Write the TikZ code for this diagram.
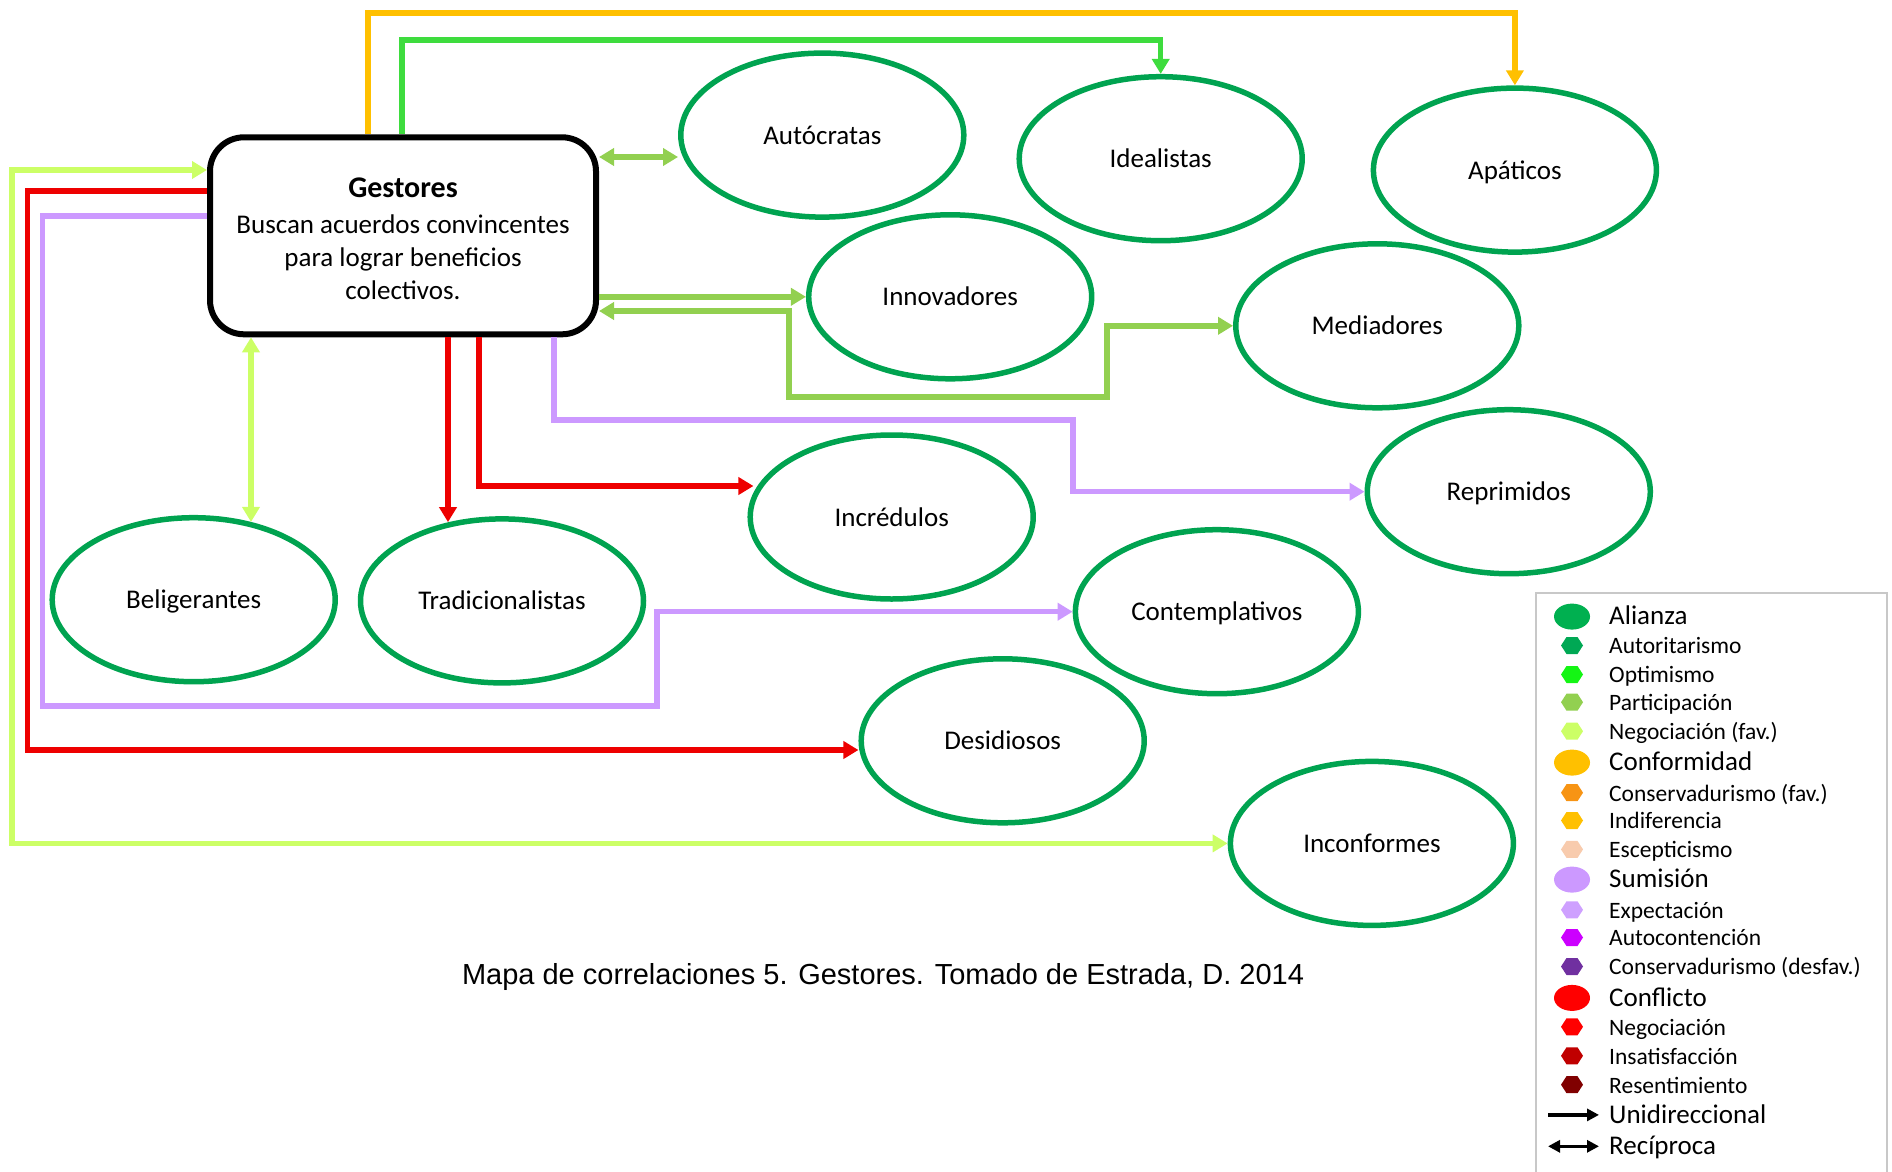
\documentclass[tikz,border=0pt]{standalone}
\usepackage{fontspec}
\setmainfont{Carlito}
\newfontfamily\capfont{Liberation Sans}
\usetikzlibrary{arrows.meta,calc,shapes.geometric}

% relation colours
\definecolor{ellgreen}{RGB}{0,163,80}
\definecolor{optimc}{RGB}{62,220,62}
\definecolor{particc}{RGB}{146,208,80}
\definecolor{negfavc}{RGB}{204,255,102}
\definecolor{conformc}{RGB}{255,192,0}
\definecolor{sumisc}{RGB}{204,153,255}
\definecolor{conflc}{RGB}{238,0,0}
% legend colours
\definecolor{alianzaL}{RGB}{0,176,80}
\definecolor{autorL}{RGB}{0,168,84}
\definecolor{optimL}{RGB}{20,245,20}
\definecolor{consfavL}{RGB}{247,148,20}
\definecolor{escepL}{RGB}{248,203,173}
\definecolor{expectL}{RGB}{206,160,255}
\definecolor{autocL}{RGB}{204,0,255}
\definecolor{consdesL}{RGB}{112,48,160}
\definecolor{conflL}{RGB}{255,0,0}
\definecolor{insatL}{RGB}{192,0,0}
\definecolor{resentL}{RGB}{128,0,0}
\definecolor{legframe}{RGB}{200,200,200}

\tikzset{
  hexa/.pic={\fill[pic actions] (-11,0) -- (-5.5,-8.5) -- (5.5,-8.5) -- (11,0) -- (5.5,8.5) -- (-5.5,8.5) -- cycle;}
}

\begin{document}
\begin{tikzpicture}[x=1pt,y=-1pt,
  actor/.style={ellipse, draw=ellgreen, line width=5.5pt, minimum width=283pt,
    minimum height=164pt, inner sep=0pt, text height=18pt, text depth=0pt,
    font=\fontsize{27}{32}\selectfont},
  hub/.style={draw=black, line width=6pt, rounded corners=34pt, minimum width=386pt,
    minimum height=197pt, align=center, inner sep=0pt, font=\fontsize{27}{33}\selectfont},
  link/.style={line width=5.5pt, -{Triangle[length=15pt,width=17pt]}},
  twoway/.style={line width=5.5pt, {Triangle[length=15pt,width=17pt]}-{Triangle[length=15pt,width=17pt]}},
  bigkey/.style={anchor=mid west, inner sep=0pt, yshift=-6pt, font=\fontsize{27}{30}\selectfont},
  smallkey/.style={anchor=mid west, inner sep=0pt, yshift=-6pt, font=\fontsize{23.5}{26}\selectfont},
]
\useasboundingbox (0,0) rectangle (1892,1172);

% central actor
\node[hub] (gest) at (403,235.8)
  {\\[-8pt]{\bfseries\fontsize{30}{33}\selectfont Gestores}\\[3pt]
   Buscan acuerdos convincentes\\para lograr beneficios\\colectivos.};

% related actors
\node[actor] (aut)  at (822.3,135.1)  {Autócratas};
\node[actor] (ide)  at (1160.7,158.7) {Idealistas};
\node[actor] (apa)  at (1514.9,170.1) {Apáticos};
\node[actor] (inn)  at (950.2,296.8)  {Innovadores};
\node[actor] (med)  at (1377.3,325.8) {Mediadores};
\node[actor] (rep)  at (1508.8,491.7) {Reprimidos};
\node[actor] (inc)  at (891.7,517)    {Incrédulos};
\node[actor] (bel)  at (193.7,599.7)  {Beligerantes};
\node[actor] (trad) at (502,600.9)    {Tradicionalistas};
\node[actor] (con)  at (1216.9,611.7) {Contemplativos};
\node[actor] (des)  at (1002.7,740.8) {Desidiosos};
\node[actor] (incf) at (1371.9,843.4) {Inconformes};

% conformidad / optimismo over the top
\draw[link, conformc] (368,0 |- gest.north) -- (368,13) -| (apa.north);
\draw[link, optimc] (402,0 |- gest.north) -- (402,40) -| (ide.north);

% participacion
\draw[twoway, particc] (gest.east |- 0,157) -- (aut.west |- 0,157);
\draw[link, particc] (gest.east |- inn.west) -- (inn.west);
\draw[twoway, particc] (gest.east |- 0,311) -- (789,311) -- (789,397) -- (1107,397) |- (med.west);

% sumision to the right
\draw[link, sumisc] (554,0 |- gest.south) -- (554,420) -- (1073,420) |- (rep.west);

% conflicto below
\draw[link, conflc] (448,0 |- gest.south) -- ($(448,0 |- trad.north)+(0,6)$);
\draw[link, conflc] (479,0 |- gest.south) |- ($(inc.west |- 0,486)+(6,0)$);

% negociacion (fav.) with Beligerantes
\draw[twoway, negfavc] (251,0 |- gest.south) -- ($(251,0 |- bel.north)+(0,7)$);

% loops round the left side
\draw[twoway, negfavc] (gest.west |- 0,170) -- (12,170) |- (incf.west);
\draw[link, conflc] (gest.west |- 0,191) -- (27.5,191) |- (des.west |- 0,750);
\draw[link, sumisc] (gest.west |- 0,216) -- (42.5,216) -- (42.5,706) -- (657,706) |- (con.west);

% caption
\node[font=\capfont\fontsize{29}{34}\selectfont] (cap) at (883,977)
  {Mapa de correlaciones 5. Gestores. Tomado de Estrada, D. 2014};

% legend
\draw[legframe, line width=1.5pt] (1536,1180) -- (1536,593) -- (1887,593) -- (1887,1180);
\foreach \y/\c/\t [count=\i] in {616.6/alianzaL/Alianza, 762.6/conformc/Conformidad,
    879.6/sumisc/Sumisión, 997.9/conflL/Conflicto}{
  \fill[\c] (1572,\y) ellipse [x radius=18, y radius=13];
  \node[bigkey] (kb\i) at (1609,\y) {\t};
}
\foreach \y/\c/\t [count=\i] in {645.5/autorL/Autoritarismo, 674.5/optimL/Optimismo,
    702.2/particc/Participación, 731.2/negfavc/Negociación (fav.),
    792.7/consfavL/Conservadurismo (fav.), 820.5/conformc/Indiferencia,
    849.4/escepL/Escepticismo, 909.8/expectL/Expectación,
    937.5/autocL/Autocontención, 966.5/consdesL/Conservadurismo (desfav.),
    1026.8/conflL/Negociación, 1055.8/insatL/Insatisfacción,
    1084.7/resentL/Resentimiento}{
  \pic[fill=\c] at (1572,\y) {hexa};
  \node[smallkey] (ks\i) at (1609,\y) {\t};
}
\node[bigkey] (kuni) at (1609,1114.9) {Unidireccional};
\node[bigkey] (krec) at (1609,1146.3) {Recíproca};
\draw[line width=3.5pt, -{Triangle[length=12pt,width=12pt]}] (1548,1114.9) -- (1599,1114.9);
\draw[line width=3.5pt, {Triangle[length=12pt,width=12pt]}-{Triangle[length=12pt,width=12pt]}] (1548,1146.3) -- (1599,1146.3);
\end{tikzpicture}
\end{document}
